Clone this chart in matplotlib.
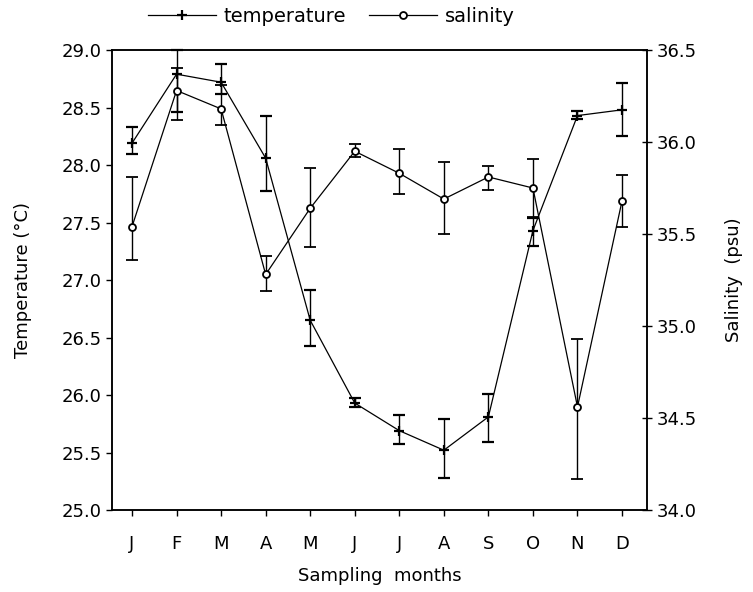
#*****************************
#
# monthly temperature and salinity with error bars
#
#*****************************
import matplotlib
matplotlib.use("Agg")
import matplotlib.pyplot as plt
from matplotlib.lines import Line2D
import numpy as np

months = ["J", "F", "M", "A", "M", "J", "J", "A", "S", "O", "N", "D"]

# temperature (deg C) - mean, upper and lower bar ends
temp    = [28.19, 28.79, 28.72, 28.06, 26.65, 25.93, 25.69, 25.52, 25.81, 27.43, 28.43, 28.48]
temp_hi = [28.33, 29.00, 28.88, 28.43, 26.91, 25.97, 25.83, 25.79, 26.01, 27.54, 28.47, 28.71]
temp_lo = [28.10, 28.46, 28.62, 27.77, 26.43, 25.90, 25.57, 25.28, 25.59, 27.30, 28.40, 28.25]

# salinity (psu) - mean, upper and lower bar ends
sal    = [35.54, 36.28, 36.18, 35.28, 35.64, 35.95, 35.83, 35.69, 35.81, 35.75, 34.56, 35.68]
sal_hi = [35.81, 36.40, 36.31, 35.38, 35.86, 35.99, 35.96, 35.89, 35.87, 35.91, 34.93, 35.82]
sal_lo = [35.36, 36.12, 36.09, 35.19, 35.43, 35.92, 35.72, 35.50, 35.74, 35.59, 34.17, 35.54]

x = np.arange(1, 13)
temp = np.array(temp)
sal = np.array(sal)
temp_err = [temp - np.array(temp_lo), np.array(temp_hi) - temp]
sal_err = [sal - np.array(sal_lo), np.array(sal_hi) - sal]

plt.rcParams["font.family"] = "DejaVu Sans"

fig = plt.figure(figsize=(7.53, 5.92), dpi=100)
ax = fig.add_axes([0.1487, 0.1385, 0.7105, 0.777])
ax2 = ax.twinx()

# temperature on the left axis
ax.errorbar(x, temp, yerr=temp_err, color="k", lw=0.9, elinewidth=1.0,
            capsize=4.5, capthick=1.0, marker="+", ms=7, mew=1.6,
            clip_on=False)

# salinity on the right axis
ax2.errorbar(x, sal, yerr=sal_err, color="k", lw=0.9, elinewidth=1.0,
             capsize=4.5, capthick=1.0, marker="o", ms=5, mew=1.3,
             mfc="white", clip_on=False)

ax.set_xlim(0.55, 12.56)
ax.set_ylim(25.0, 29.0)
ax2.set_ylim(34.0, 36.5)

ax.set_xticks(x)
ax.set_xticklabels(months)
ax.set_yticks(np.arange(25.0, 29.01, 0.5))
ax.set_yticklabels(["%.1f" % v for v in np.arange(25.0, 29.01, 0.5)])
ax2.set_yticks(np.arange(34.0, 36.51, 0.5))
ax2.set_yticklabels(["%.1f" % v for v in np.arange(34.0, 36.51, 0.5)])

ax.tick_params(axis="both", direction="out", length=4, width=1.0, labelsize=13)
ax.tick_params(axis="x", pad=14)
ax2.tick_params(axis="y", direction="inout", length=7, width=1.0, labelsize=13)

for a in [ax, ax2]:
    for s in a.spines.values():
        s.set_linewidth(1.1)

ax.set_xlabel("Sampling  months", fontsize=13, labelpad=10)
ax.set_ylabel("Temperature (°C)", fontsize=13, labelpad=21)
ax2.set_ylabel("Salinity  (psu)", fontsize=13, labelpad=20)

# legend with plain line + marker handles
h_t = Line2D([], [], color="k", lw=0.9, marker="+", ms=7, mew=1.6)
h_s = Line2D([], [], color="k", lw=0.9, marker="o", ms=5, mew=1.3, mfc="white")
fig.legend([h_t, h_s], ["temperature", "salinity"], ncol=2, frameon=False,
           loc="center", bbox_to_anchor=(0.44, 0.972), fontsize=14,
           handlelength=3.5, columnspacing=1.2, handletextpad=0.4)

plt.savefig("out.png", dpi=100)
